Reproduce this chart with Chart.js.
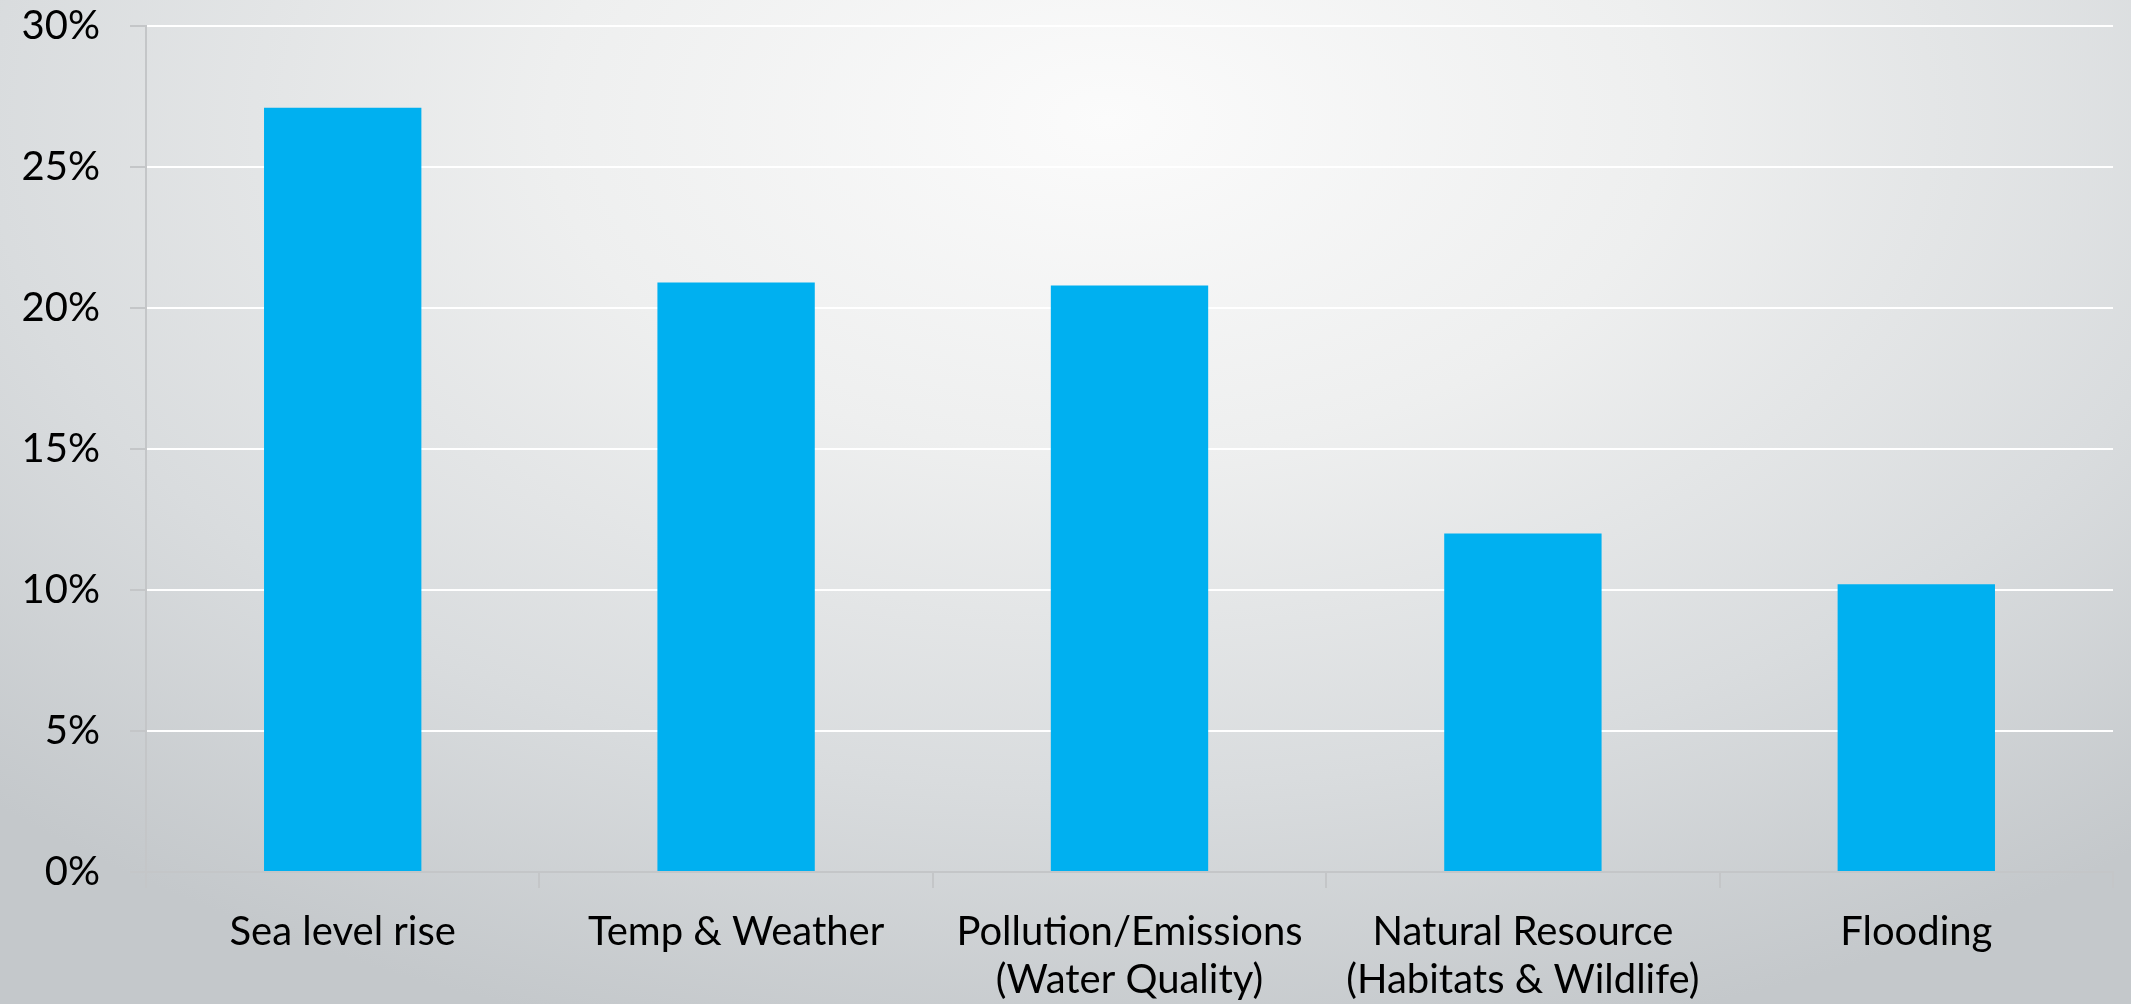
<!DOCTYPE html>
<html>
<head>
<meta charset="utf-8">
<script src="https://cdn.jsdelivr.net/npm/chart.js@4/dist/chart.umd.min.js"></script>
<style>
  html, body { margin: 0; padding: 0; }
  body {
    width: 2131px; height: 1004px; overflow: hidden;
    background: radial-gradient(ellipse 75% 95% at 52% 12%, #fbfbfb 0%, #eeefef 35%, #d9dcde 70%, #c4c8cb 100%);
  }
  #wrap { width: 2131px; height: 1004px; position: relative; }
</style>
</head>
<body>
<div id="wrap"><canvas id="chart"></canvas></div>
<script>
// Environmental concerns chart data
const categories = [
  'Sea level rise',
  'Temp & Weather',
  ['Pollution/Emissions', '(Water Quality)'],
  ['Natural Resource', '(Habitats & Wildlife)'],
  'Flooding'
];
const shares = [27.1, 20.9, 20.8, 12.0, 10.2];
const yTicks = [0, 5, 10, 15, 20, 25, 30];

const axisGray = '#c4c6c8';
const font = { family: 'Lato, "Open Sans", sans-serif', size: 40 };

new Chart(document.getElementById('chart'), {
  type: 'bar',
  data: {
    labels: categories,
    datasets: [{
      data: shares,
      backgroundColor: '#00b0f0',
      borderWidth: 0,
      barPercentage: 0.4,
      categoryPercentage: 1.0
    }]
  },
  options: {
    responsive: true,
    maintainAspectRatio: false,
    animation: false,
    layout: { padding: { top: 0, right: 18, left: 0, bottom: 0 } },
    plugins: { legend: { display: false }, tooltip: { enabled: false } },
    scales: {
      x: {
        grid: { drawOnChartArea: false, offset: true, tickLength: 16, tickColor: axisGray, lineWidth: 2 },
        border: { color: axisGray, width: 2 },
        ticks: { color: '#000', font: font, padding: 20, maxRotation: 0, autoSkip: false },
        afterFit(scale) { scale.height = 132; }
      },
      y: {
        min: 0,
        max: 30,
        afterBuildTicks(scale) { scale.ticks = yTicks.map(v => ({ value: v })); },
        grid: { color: '#ffffff', lineWidth: 2, tickLength: 16, tickColor: axisGray, drawTicks: true },
        border: { color: axisGray, width: 2 },
        ticks: { color: '#000', font: font, padding: 30, callback: v => v + '%' },
        afterFit(scale) {
          scale.width = 146;
          scale.paddingTop = 26;
          scale.paddingBottom = 0;
        }
      }
    }
  }
});
</script>
</body>
</html>
